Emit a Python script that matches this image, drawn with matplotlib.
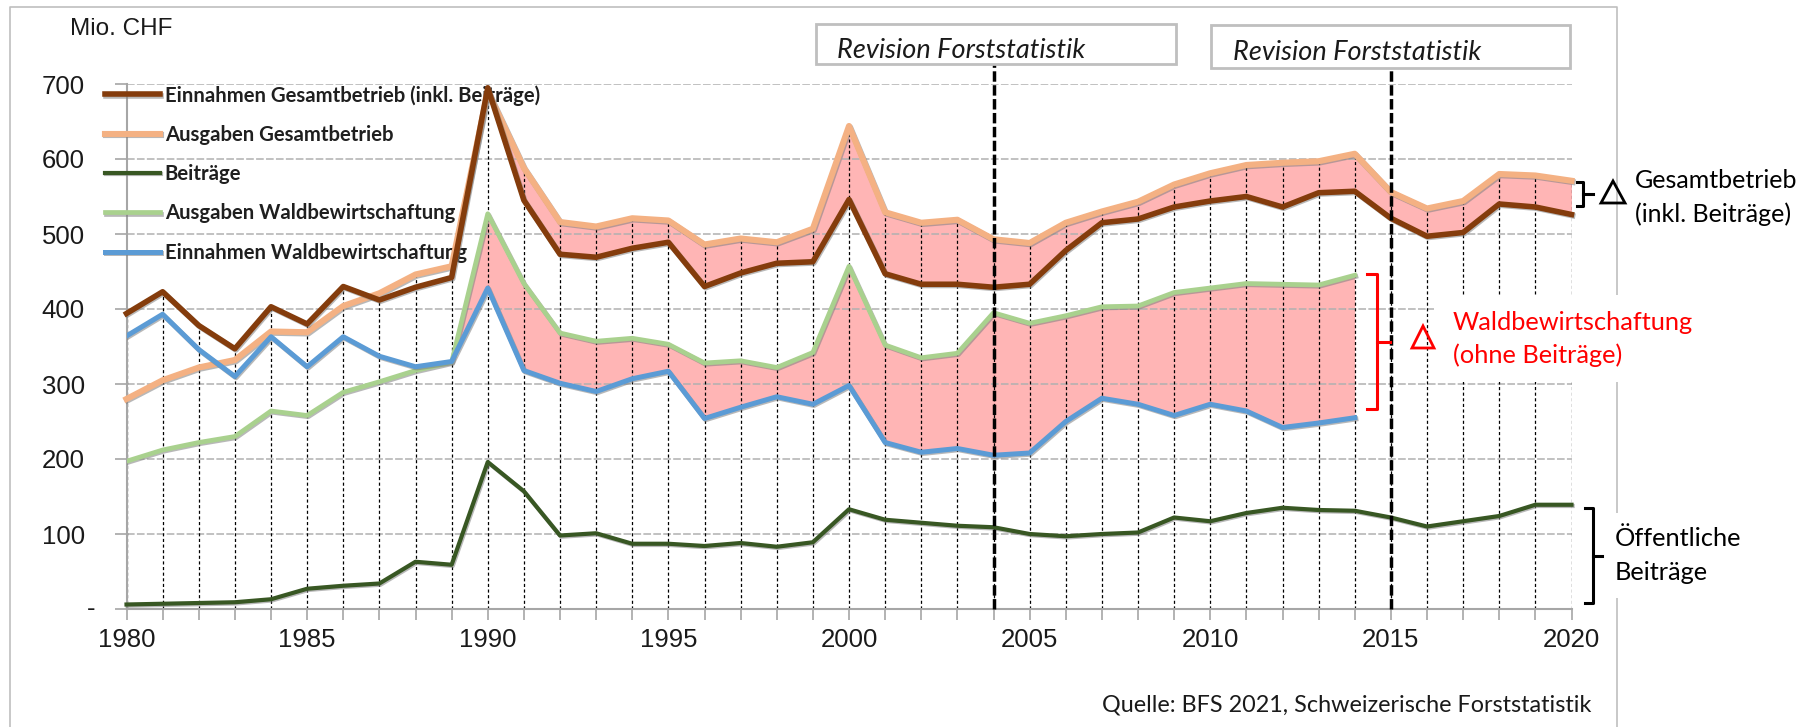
import numpy as np
import matplotlib.pyplot as plt
import matplotlib.patheffects as pe
from matplotlib.patches import Rectangle, Polygon

years = list(range(1980, 2021))
years_wald = list(range(1980, 2015))

einnahmen_gesamt = [394, 423, 378, 347, 403, 380, 430, 412, 429, 442,
                    695, 545, 473, 469, 481, 489, 430, 448, 461, 463,
                    546, 447, 433, 433, 429, 433, 478, 515, 520, 536,
                    544, 550, 536, 555, 557, 521, 497, 502, 540, 536, 526]
ausgaben_gesamt = [280, 305, 322, 332, 370, 369, 404, 421, 446, 457,
                   690, 588, 516, 510, 521, 518, 486, 494, 489, 507,
                   644, 529, 515, 519, 493, 488, 515, 530, 543, 566,
                   581, 592, 595, 597, 607, 556, 534, 544, 580, 578, 571]
beitraege = [6, 7, 8, 9, 13, 27, 31, 34, 63, 59,
             196, 157, 98, 101, 87, 87, 84, 88, 83, 89,
             133, 119, 115, 111, 109, 100, 97, 100, 102, 122,
             117, 128, 135, 132, 131, 122, 110, 117, 124, 139, 139]
ausgaben_wald = [197, 212, 222, 230, 264, 258, 289, 303, 318, 329,
                 527, 434, 368, 357, 361, 353, 328, 331, 322, 342,
                 457, 352, 335, 341, 395, 381, 391, 403, 404, 422,
                 428, 434, 433, 432, 445]
einnahmen_wald = [364, 393, 346, 310, 363, 323, 363, 337, 323, 330,
                  428, 318, 301, 290, 307, 317, 254, 269, 283, 273,
                  298, 222, 209, 214, 205, 208, 250, 281, 273, 258,
                  273, 264, 242, 248, 255]

labels = ["Einnahmen Gesamtbetrieb (inkl. Beiträge)", "Ausgaben Gesamtbetrieb",
          "Beiträge", "Ausgaben Waldbewirtschaftung", "Einnahmen Waldbewirtschaftung"]
revision_years = [2004, 2015]

plt.rcParams['font.family'] = ['Liberation Sans', 'DejaVu Sans']
calibri = ['Lato', 'DejaVu Sans']

W, H = 1804, 727
fig = plt.figure(figsize=(W / 100, H / 100), dpi=100)


def fx(x):
    return x / W


def fy(y):
    return 1 - y / H


ax = fig.add_axes([fx(126.5), fy(609), (1571.5 - 126.5) / W, (609 - 84) / H])
ax.set_xlim(1980, 2020)
ax.set_ylim(0, 700)

pink = '#FFB5B5'
ax.fill_between(years[10:], einnahmen_gesamt[10:], ausgaben_gesamt[10:], color=pink, lw=0, zorder=1)
ax.fill_between(years_wald[9:], einnahmen_wald[9:], ausgaben_wald[9:], color=pink, lw=0, zorder=1)

# drop lines from the highest series down to the axis
wald_pad = list(ausgaben_wald) + [np.nan] * (len(years) - len(years_wald))
tops = np.nanmax(np.array([einnahmen_gesamt, ausgaben_gesamt, wald_pad], dtype=float), axis=0)
ax.vlines(years, 0, tops, colors='black', linestyles=(0, (2.5, 2)), lw=0.9, zorder=2)

shadow = [pe.SimpleLineShadow(offset=(0.8, -0.9), shadow_color='#7f7f7f', alpha=0.55), pe.Normal()]
l_aus, = ax.plot(years, ausgaben_gesamt, color='#F4B183', lw=4.4, zorder=3,
                 path_effects=shadow, clip_on=False, label=labels[1])
l_ein, = ax.plot(years, einnahmen_gesamt, color='#843C0C', lw=4.0, zorder=3.1,
                 path_effects=shadow, clip_on=False, label=labels[0])
l_bei, = ax.plot(years, beitraege, color='#385723', lw=3.0, zorder=3,
                 path_effects=shadow, clip_on=False, label=labels[2])
l_awald, = ax.plot(years_wald, ausgaben_wald, color='#A9D18E', lw=3.4, zorder=3,
                   path_effects=shadow, label=labels[3])
l_ewald, = ax.plot(years_wald, einnahmen_wald, color='#5B9BD5', lw=3.6, zorder=3.1,
                   path_effects=shadow, label=labels[4])

for yr in revision_years:
    ax.plot([yr, yr], [0, 729], color='black', lw=2.5, ls=(0, (3.0, 1.0)),
            clip_on=False, zorder=4)

ax.set_xticks(range(1980, 2021, 5))
ax.set_xticks(years, minor=True)
ax.tick_params(axis='x', which='both', direction='out', length=8, width=1.2, color='#A6A6A6')
ax.tick_params(axis='x', which='major', labelsize=18.5, pad=6, labelcolor='#1a1a1a')
ax.set_yticks(range(0, 701, 100))
ax.set_yticklabels([''] + [str(v) for v in range(100, 701, 100)])
ax.tick_params(axis='y', direction='out', length=9, width=1.2, color='#A6A6A6',
               labelsize=18.5, pad=21, labelcolor='#1a1a1a')
ax.yaxis.grid(True, color='#B0B0B0', ls=(0, (5, 1.5)), lw=1.1)
for s in ['top', 'right']:
    ax.spines[s].set_visible(False)
for s in ['left', 'bottom']:
    ax.spines[s].set_color('#A6A6A6')
    ax.spines[s].set_linewidth(1.5)

leg = ax.legend(handles=[l_ein, l_aus, l_bei, l_awald, l_ewald], loc='upper left',
                bbox_to_anchor=(fx(105), fy(85)), bbox_transform=fig.transFigure,
                frameon=False, borderpad=0, borderaxespad=0, handlelength=2.7,
                handletextpad=0.25, labelspacing=0.95,
                prop={'family': calibri, 'weight': 'bold', 'size': 14.6})
leg.set_zorder(2.5)
for t in leg.get_texts():
    t.set_color('#1f1f1f')

# overlay in pixel coordinates for boxes, brackets and notes
ov = fig.add_axes([0, 0, 1, 1], zorder=5)
ov.set_xlim(0, W)
ov.set_ylim(H, 0)
ov.axis('off')

ov.plot([10, 10, 1617, 1617], [727, 7, 7, 727], color='#BFBFBF', lw=1.2, zorder=1)

ov.text(70, 29, "Mio. CHF", fontsize=17.5, va='center', ha='left', color='#1a1a1a')
# zero label of the y axis ("-" in accounting style)
ov.text(91.5, 609, "-", fontsize=18.5, va='center', ha='center', color='#1a1a1a')

for x0, x1, y0, y1, tx in [(816, 1176, 24, 64, 837), (1211, 1570, 25, 68, 1233)]:
    ov.add_patch(Rectangle((x0, y0), x1 - x0, y1 - y0, fc='white', ec='#BFBFBF', lw=2, zorder=2))
    ov.text(tx, (y0 + y1) / 2 + 6, "Revision Forststatistik", family=calibri, style='italic',
            fontsize=19.5, va='center', ha='left', color='#1a1a1a', zorder=3)

# white boxes behind the notes
ov.add_patch(Rectangle((1434, 295), 230, 87, fc='white', ec='none', zorder=2))
ov.add_patch(Rectangle((1608, 513), 160, 85, fc='white', ec='none', zorder=2))

# Gesamtbetrieb bracket and note
ov.plot([1577, 1583, 1583, 1577], [182, 182, 206, 206], color='black', lw=2.2, zorder=3)
ov.plot([1583, 1593], [194, 194], color='black', lw=2.2, zorder=3)
ov.add_patch(Polygon([[1601, 203], [1613, 181], [1625, 203]], closed=True, fill=False,
                     ec='black', lw=2.0, zorder=3))
ov.text(1635, 181, "Gesamtbetrieb", family=calibri, fontsize=18, va='center', ha='left', zorder=3)
ov.text(1635, 214, "(inkl. Beiträge)", family=calibri, fontsize=18, va='center', ha='left', zorder=3)

# Waldbewirtschaftung bracket and note
red = '#FF0000'
ov.plot([1367, 1377, 1377, 1367], [274, 274, 409, 409], color=red, lw=2.2, zorder=3)
ov.plot([1377, 1390], [342, 342], color=red, lw=2.2, zorder=3)
ov.add_patch(Polygon([[1412, 348], [1423, 326], [1434, 348]], closed=True, fill=False,
                     ec=red, lw=2.0, zorder=3))
ov.text(1453, 323, "Waldbewirtschaftung", family=calibri, fontsize=18.3, color=red,
        va='center', ha='left', zorder=3)
ov.text(1453, 355, "(ohne Beiträge)", family=calibri, fontsize=18.3, color=red,
        va='center', ha='left', zorder=3)

# Beiträge bracket and note
ov.plot([1585, 1593, 1593, 1585], [508, 508, 603, 603], color='black', lw=2.2, zorder=3)
ov.plot([1593, 1602], [556, 556], color='black', lw=2.2, zorder=3)
ov.text(1615, 539, "Öffentliche", family=calibri, fontsize=18.3, va='center', ha='left', zorder=3)
ov.text(1615, 572, "Beiträge", family=calibri, fontsize=18.3, va='center', ha='left', zorder=3)

ov.text(1591, 705, "Quelle: BFS 2021, Schweizerische Forststatistik", family=calibri,
        fontsize=16.8, va='center', ha='right', color='#1a1a1a', zorder=3)

fig.savefig("out.png", dpi=100)
